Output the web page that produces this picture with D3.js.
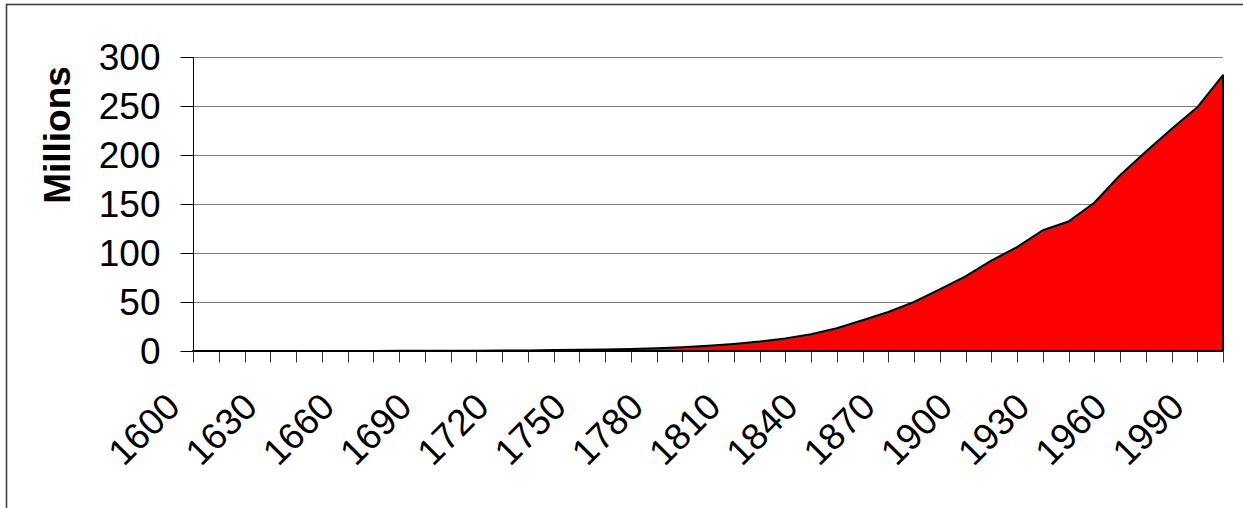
<!DOCTYPE html>
<html>
<head>
<meta charset="utf-8">
<script src="https://cdn.jsdelivr.net/npm/d3@7"></script>
<style>
  html, body { margin: 0; padding: 0; background: #fff; }
  svg { display: block; }
  text { font-family: Arial, "Liberation Sans", sans-serif; fill: #000; }
</style>
</head>
<body>
<svg id="chart" width="1243" height="508"></svg>
<script>
const years = [1600,1610,1620,1630,1640,1650,1660,1670,1680,1690,1700,1710,1720,1730,1740,1750,1760,1770,1780,1790,1800,1810,1820,1830,1840,1850,1860,1870,1880,1890,1900,1910,1920,1930,1940,1950,1960,1970,1980,1990,2000];
const population = [0,0.00035,0.0025,0.0046,0.0267,0.050,0.075,0.111,0.151,0.210,0.251,0.332,0.466,0.629,0.906,1.17,1.59,2.15,2.78,3.93,5.31,7.24,9.64,12.87,17.07,23.19,31.44,39.8,50.19,62.98,76.21,92.23,106.02,123.20,132.16,151.33,179.32,203.30,226.54,248.71,281.42];
const yTicks = [0,50,100,150,200,250,300];
const xLabelYears = [1600,1630,1660,1690,1720,1750,1780,1810,1840,1870,1900,1930,1960,1990];
const yTitle = "Millions";

const svg = d3.select("#chart");
const plotLeft = 193, plotRight = 1223, plotTop = 57, plotBottom = 351;

// frame
svg.append("rect")
  .attr("x", 6.5).attr("y", 4.5)
  .attr("width", 1400).attr("height", 700)
  .attr("fill", "none").attr("stroke", "#404040").attr("stroke-width", 1.6);

const x = d3.scalePoint().domain(years).range([plotLeft, plotRight]);
const y = d3.scaleLinear().domain([0, 300]).range([plotBottom, plotTop]);
const crisp = v => Math.round(v) + 0.5;

// gridlines
svg.append("g").selectAll("line")
  .data(yTicks.filter(d => d > 0))
  .join("line")
  .attr("x1", plotLeft).attr("x2", plotRight)
  .attr("y1", d => crisp(y(d))).attr("y2", d => crisp(y(d)))
  .attr("stroke", "#808080").attr("stroke-width", 1);

// area
const data = years.map((yr, i) => ({ yr, v: population[i] }));
const area = d3.area().x(d => x(d.yr)).y0(y(0)).y1(d => y(d.v));
svg.append("path")
  .datum(data)
  .attr("d", area)
  .attr("fill", "#ff0000")
  .attr("stroke", "#000").attr("stroke-width", 2).attr("stroke-linejoin", "round");

// y axis
const yAxis = d3.axisLeft(y).tickValues(yTicks).tickSize(13).tickPadding(20).tickFormat(d3.format("d"));
const gy = svg.append("g").attr("transform", `translate(${plotLeft + 0.5},0)`).call(yAxis);
gy.select(".domain").attr("stroke", "#000").attr("d", `M0,${plotTop}V${plotBottom}`);
gy.selectAll(".tick").attr("transform", d => `translate(0,${crisp(y(d))})`);
gy.selectAll(".tick line").attr("stroke", "#000");
gy.selectAll(".tick text").attr("font-size", 37).attr("font-family", "Arial, 'Liberation Sans', sans-serif").attr("fill", "#000").attr("dy", "0.35em");

// x axis
const xAxis = d3.axisBottom(x).tickSize(11).tickFormat("");
const gx = svg.append("g").attr("transform", `translate(0,${plotBottom + 0.5})`).call(xAxis);
gx.select(".domain").attr("stroke", "#000").attr("d", `M${plotLeft},0H${plotRight}`);
gx.selectAll(".tick").attr("transform", d => `translate(${crisp(x(d))},0)`);
gx.selectAll(".tick line").attr("stroke", "#333");

// x labels
svg.append("g").selectAll("text")
  .data(xLabelYears)
  .join("text")
  .attr("transform", d => `translate(${x(d) - 11},${plotBottom + 58}) rotate(-45)`)
  .attr("text-anchor", "end")
  .attr("font-size", 37)
  .text(d => d);

// y title
svg.append("text")
  .attr("transform", "translate(70,135) rotate(-90)")
  .attr("text-anchor", "middle")
  .attr("font-size", 37)
  .attr("font-weight", "bold")
  .text(yTitle);
</script>
</body>
</html>
